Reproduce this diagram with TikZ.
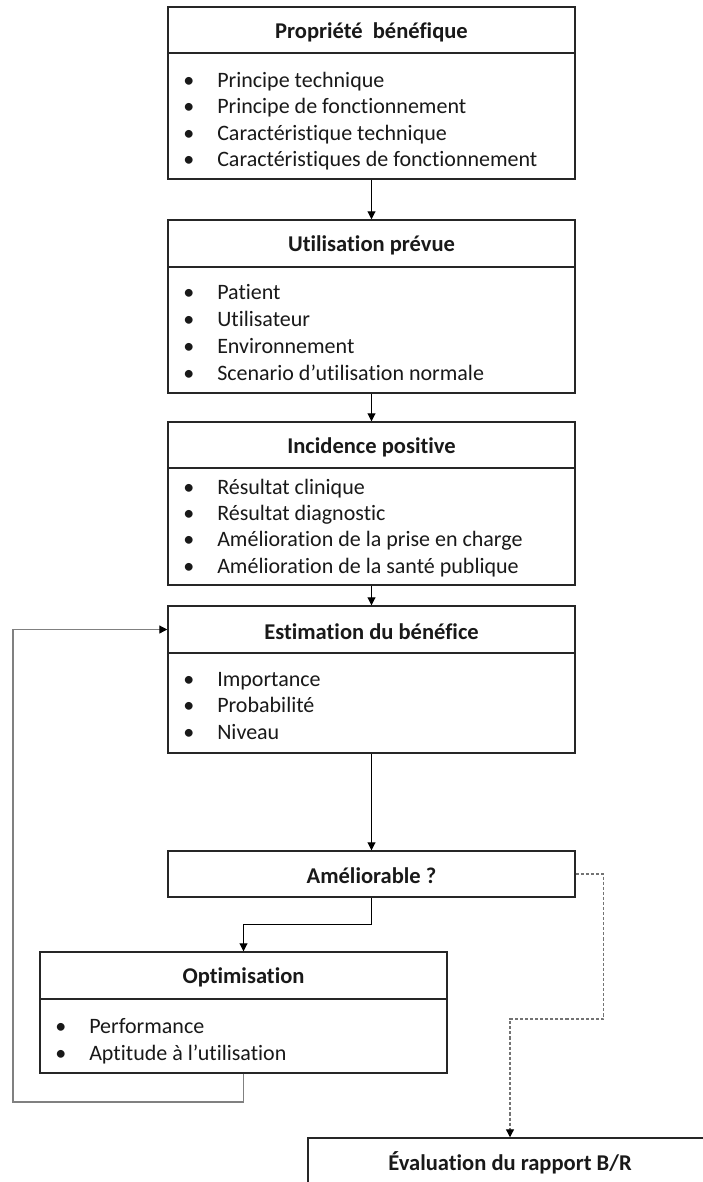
\documentclass[tikz,border=0pt]{standalone}
\usepackage{fontspec}
\setmainfont{Carlito}[Ligatures={NoCommon}]
\usetikzlibrary{arrows.meta,fit}
\tikzset{
  boxline/.style={draw=black!85, line width=1.1pt},
  frame/.style={boxline, inner sep=0pt},
  ttl/.style={inner sep=0pt, font=\fontsize{16.9pt}{20pt}\selectfont\bfseries, text=black!90},
  itm/.style={anchor=base west, inner sep=0pt, font=\fontsize{16.5pt}{20pt}\selectfont, text=black!90},
  arr/.style={draw=black, line width=0.75pt, -{Triangle[length=6pt,width=6pt]}},
  fb/.style={draw=black!50, line width=0.9pt, -{Triangle[length=6pt,width=6pt,color=black]}},
  dsh/.style={draw=black!55, line width=0.9pt, dash pattern=on 2.3pt off 1.5pt, -{Triangle[length=6pt,width=6pt,color=black]}},
}
\newcommand\myitems[5]{%
  \foreach \t [count=\i] in {#5}
    \node[itm] (#1-\i) at (#2, {#3+#4*(\i-1)}) {\makebox[25.5pt][l]{\textbullet}\t};%
}
\begin{document}
\begin{tikzpicture}[x=0.75pt, y=-0.75pt]
\useasboundingbox (0,0) rectangle (703,1182);
\clip (0,0) rectangle (703,1182);
\fill[white] (0,0) rectangle (703,1182);

% Box 1
\node[frame, fit={(168,7)(575,53)}] (h1) {};
\node[ttl] (t1) at ([yshift=-1.5pt]h1.center) {Propriété~ bénéfique};
\node[frame, fit={(168,53)(575,179)}] (f1) {};
\myitems{a}{183}{87}{26.5}{Principe technique,Principe de fonctionnement,Caractéristique technique,Caractéristiques de fonctionnement}

% Box 2
\node[frame, fit={(168,220)(575,267)}] (h2) {};
\node[ttl] (t2) at ([yshift=-1.5pt]h2.center) {Utilisation prévue};
\node[frame, fit={(168,267)(575,393)}] (f2) {};
\myitems{b}{183}{299}{27}{Patient,Utilisateur,Environnement,Scenario d’utilisation normale}

% Box 3
\node[frame, fit={(168,422)(575,468)}] (h3) {};
\node[ttl] (t3) at ([yshift=-1.5pt]h3.center) {Incidence positive};
\node[frame, fit={(168,468)(575,585)}] (f3) {};
\myitems{c}{183}{494}{26.4}{Résultat clinique,Résultat diagnostic,Amélioration de la prise en charge,Amélioration de la santé publique}

% Box 4
\node[frame, fit={(168,606)(575,653)}] (h4) {};
\node[ttl] (t4) at ([yshift=-1.5pt]h4.center) {Estimation du bénéfice};
\node[frame, fit={(168,653)(575,753)}] (f4) {};
\myitems{d}{183}{686}{26.5}{Importance,Probabilité,Niveau}

% Ameliorable
\node[frame, fit={(168,851)(575,897)}] (am) {};
\node[ttl] (t5) at ([yshift=-1.5pt]am.center) {Améliorable ?};

% Optimisation
\node[frame, fit={(40,952)(447,999)}] (h5) {};
\node[ttl] (t6) at ([yshift=-1.5pt]h5.center) {Optimisation};
\node[frame, fit={(40,999)(447,1073)}] (f5) {};
\myitems{e}{55}{1033}{27}{Performance,Aptitude à l’utilisation}

% Evaluation
\node[frame, fit={(308,1138)(712,1184)}] (h6) {};
\node[ttl] (t7) at ([yshift=-1.5pt]h6.center) {Évaluation du rapport B/R};
\node[frame, fit={(308,1184)(712,1260)}] (f6) {};

% Connectors
\draw[arr] (f1.south) -- (h2.north);
\draw[arr] (f2.south) -- (h3.north);
\draw[arr] (f3.south) -- (h4.north);
\draw[arr] (f4.south) -- (am.north);
\coordinate (amopt) at (371.5,924);
\draw[arr] (am.south) -- (amopt) -| (h5.north);
\coordinate (fbc) at (13,1102);
\draw[fb] (f5.south) |- (fbc) |- (h4.west);
\coordinate (dsa) at (603.5,874);
\coordinate (dsb) at (510,1019);
\draw[dsh] (am.east) -- (dsa) |- (dsb) -| (h6.north);
\end{tikzpicture}
\end{document}
